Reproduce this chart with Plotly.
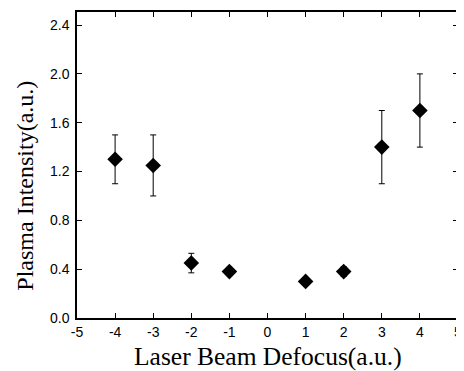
import plotly.graph_objects as go

defocus = [-4, -3, -2, -1, 1, 2, 3, 4]
intensity = [1.30, 1.25, 0.45, 0.38, 0.30, 0.38, 1.40, 1.70]
err = [0.20, 0.25, 0.08, 0.02, 0.02, 0.04, 0.30, 0.30]

x_ticks = [-5, -4, -3, -2, -1, 0, 1, 2, 3, 4, 5]
y_ticks = [0.0, 0.4, 0.8, 1.2, 1.6, 2.0, 2.4]
y_labels = [f"{v:.1f}" for v in y_ticks]

x_title = "Laser Beam Defocus(a.u.)"
y_title = "Plasma Intensity(a.u.)"

fig = go.Figure()
fig.add_trace(go.Scatter(
    x=defocus, y=intensity, mode="markers",
    marker=dict(symbol="diamond", size=12, color="black"),
    error_y=dict(type="data", array=err, visible=True, color="black",
                 thickness=1, width=3),
    showlegend=False,
))

axis_common = dict(
    showgrid=False, zeroline=False, showline=True, linecolor="black",
    linewidth=1.5, mirror="ticks", ticks="inside", ticklen=5,
    tickcolor="black", tickwidth=1.2, automargin=False,
    tickfont=dict(family="Liberation Sans, Arial", size=14, color="black"),
)

# page body has an 8px default margin; figure sized/offset to compensate
fig.update_layout(
    width=456, height=363,
    margin=dict(l=69, r=6, t=4, b=53),
    paper_bgcolor="white", plot_bgcolor="white",
    xaxis=dict(range=[-5, 5], tickvals=x_ticks,
               ticktext=[str(v) for v in x_ticks], **axis_common),
    yaxis=dict(range=[0, 2.507], tickvals=y_ticks, ticktext=y_labels,
               ticklabelstandoff=3, **axis_common),
    annotations=[
        dict(text=x_title, xref="paper", yref="paper", x=0.5, y=-0.127,
             xanchor="center", yanchor="middle", showarrow=False,
             font=dict(family="Liberation Serif, Times New Roman", size=25.5, color="black")),
        dict(text=y_title, xref="paper", yref="paper", x=-0.135, y=0.431,
             xanchor="center", yanchor="middle", showarrow=False, textangle=-90,
             font=dict(family="Liberation Serif, Times New Roman", size=24, color="black")),
    ],
)

fig.write_html("out.html", config={"displayModeBar": False})
